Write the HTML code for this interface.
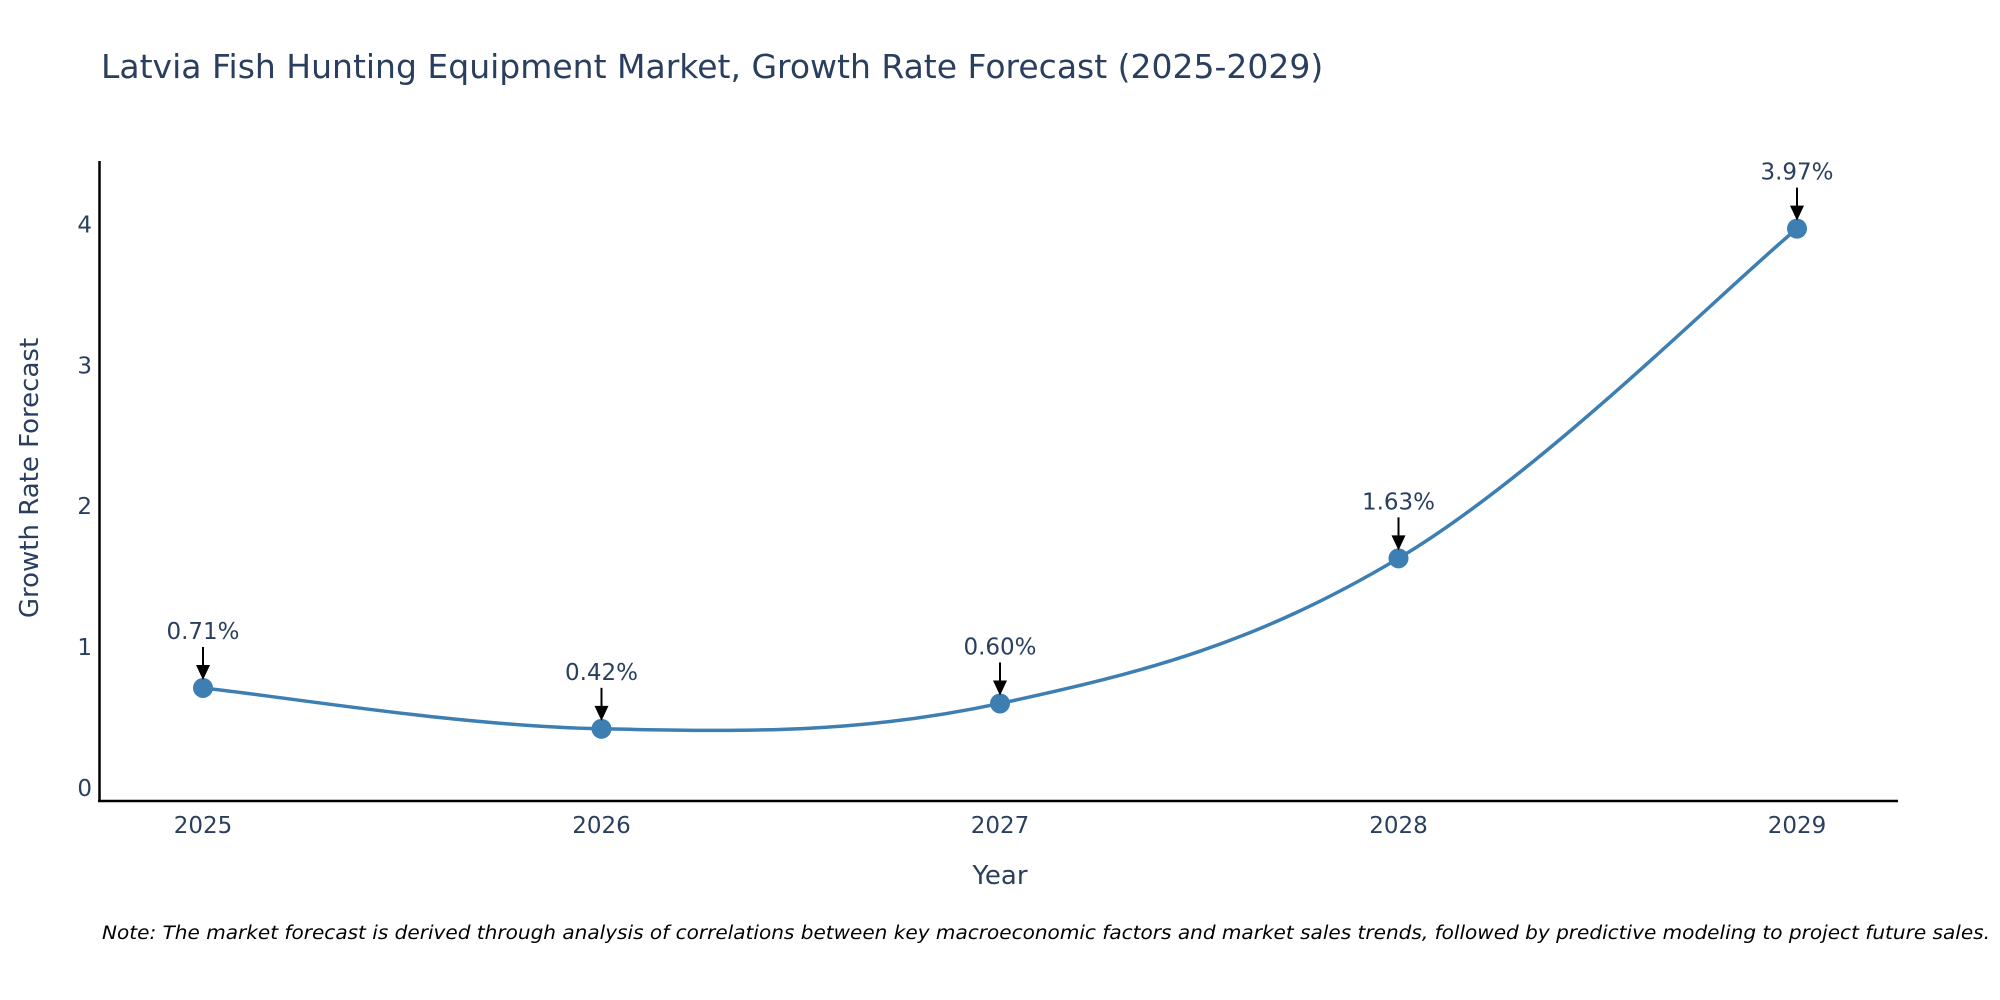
<!DOCTYPE html>
<html><head><meta charset="utf-8"><style>
body{margin:0;background:#fff;}
svg{display:block;font-family:"DejaVu Sans","Liberation Sans",sans-serif;}
</style></head><body>
<svg id="chart" width="2000" height="1000" viewBox="0 0 2000 1000">
<text x="101" y="78" font-size="33" fill="#2a3f5f">Latvia Fish Hunting Equipment Market, Growth Rate Forecast (2025-2029)</text>
<g id="yticks"></g>
<g id="xticks"></g>
<line x1="99.5" y1="161" x2="99.5" y2="802" stroke="#000" stroke-width="2.5"/>
<line x1="98" y1="801" x2="1898" y2="801" stroke="#000" stroke-width="2.5"/>
<text x="1000" y="884" font-size="26" fill="#2a3f5f" text-anchor="middle">Year</text>
<text x="38" y="478" font-size="26" fill="#2a3f5f" text-anchor="middle" transform="rotate(-90 38 478)">Growth Rate Forecast</text>
<g id="series"></g>
<g id="annots"></g>
<text x="1990" y="939" font-size="18.5" font-style="italic" fill="#000" text-anchor="end" textLength="1888" lengthAdjust="spacingAndGlyphs">Note: The market forecast is derived through analysis of correlations between key macroeconomic factors and market sales trends, followed by predictive modeling to project future sales.</text>
</svg>
<script>
const years = ["2025","2026","2027","2028","2029"];
const values = [0.71, 0.42, 0.60, 1.63, 3.97];
const labels = ["0.71%","0.42%","0.60%","1.63%","3.97%"];
const yTickValues = [0,1,2,3,4];

const NS="http://www.w3.org/2000/svg";
function xs(i){return 203+i*398.5;}
function ys(v){return 788-v*140.9;}
function mk(tag,attrs,parent){const e=document.createElementNS(NS,tag);for(const k in attrs)e.setAttribute(k,attrs[k]);parent.appendChild(e);return e;}

const yt=document.getElementById('yticks');
yTickValues.forEach(v=>{
  const t=mk('text',{x:92,y:ys(v)+8,'font-size':23,fill:'#2a3f5f','text-anchor':'end'},yt);
  
  
  t.textContent=v;
});
const xt=document.getElementById('xticks');
years.forEach((y,i)=>{
  const t=mk('text',{x:xs(i),y:833,'font-size':23,fill:'#2a3f5f','text-anchor':'middle'},xt);
  
  
  t.textContent=y;
});

const s=document.getElementById('series');
const pts=values.map((v,i)=>[xs(i),ys(v)]);
let d=`M${pts[0][0]},${pts[0][1]}`;
const k=0.18;
for(let i=0;i<pts.length-1;i++){
  const p0=pts[Math.max(i-1,0)],p1=pts[i],p2=pts[i+1],p3=pts[Math.min(i+2,pts.length-1)];
  const c1=[p1[0]+(p2[0]-p0[0])*k,p1[1]+(p2[1]-p0[1])*k];
  const c2=[p2[0]-(p3[0]-p1[0])*k,p2[1]-(p3[1]-p1[1])*k];
  d+=` C${c1[0]},${c1[1]} ${c2[0]},${c2[1]} ${p2[0]},${p2[1]}`;
}
const line=mk('path',{d:d,fill:'none',stroke:'#3d7fb3','stroke-width':3.5},s);


pts.forEach((p,i)=>{
  const c=mk('circle',{cx:p[0],cy:p[1],r:10,fill:'#3d7fb3'},s);
  
  
});

const a=document.getElementById('annots');
pts.forEach((p,i)=>{
  const l=mk('line',{x1:p[0],y1:p[1]-41,x2:p[0],y2:p[1]-20,stroke:'#000','stroke-width':2},a);
  
  
  const h=mk('polygon',{points:`${p[0]-7},${p[1]-23} ${p[0]+7},${p[1]-23} ${p[0]},${p[1]-8}`,fill:'#000'},a);
  
  
  const t=mk('text',{x:p[0],y:p[1]-49,'font-size':23,fill:'#2a3f5f','text-anchor':'middle'},a);
  
  
  t.textContent=labels[i];
});
</script>
</body></html>
